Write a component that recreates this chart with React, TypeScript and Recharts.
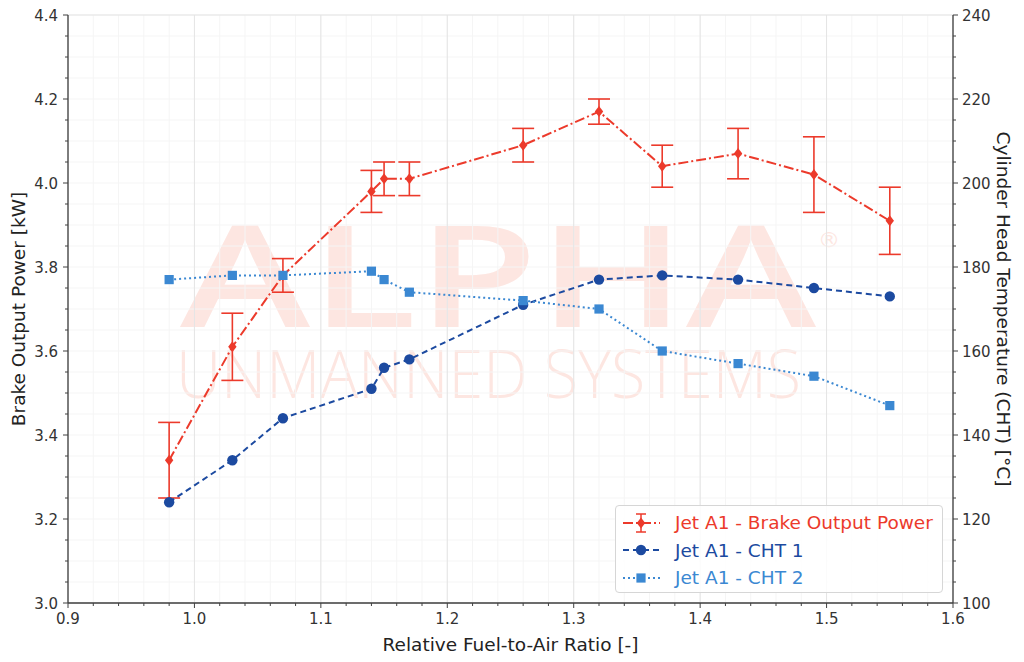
import React from 'react';
import {
  ComposedChart, Line, XAxis, YAxis, CartesianGrid, ErrorBar, Legend,
} from 'recharts';

// relative fuel-to-air ratio (x)
const RATIO = [0.98, 1.03, 1.07, 1.14, 1.15, 1.17, 1.26, 1.32, 1.37, 1.43, 1.49, 1.55];
// brake output power [kW] and its error
const POWER = [3.34, 3.61, 3.78, 3.98, 4.01, 4.01, 4.09, 4.17, 4.04, 4.07, 4.02, 3.91];
const POWER_ERR = [0.09, 0.08, 0.04, 0.05, 0.04, 0.04, 0.04, 0.03, 0.05, 0.06, 0.09, 0.08];
// cylinder head temperatures [°C]
const CHT1 = [124, 134, 144, 151, 156, 158, 171, 177, 178, 177, 175, 173];
const CHT2 = [177, 178, 178, 179, 177, 174, 172, 170, 160, 157, 154, 147];

const MAJOR_X = [0.9, 1.0, 1.1, 1.2, 1.3, 1.4, 1.5, 1.6];
const MINOR_X = [
  0.92, 0.94, 0.96, 0.98, 1.02, 1.04, 1.06, 1.08, 1.12, 1.14, 1.16, 1.18,
  1.22, 1.24, 1.26, 1.28, 1.32, 1.34, 1.36, 1.38, 1.42, 1.44, 1.46, 1.48,
  1.52, 1.54, 1.56, 1.58,
];
const MAJOR_Y = [3.0, 3.2, 3.4, 3.6, 3.8, 4.0, 4.2, 4.4];
const MINOR_Y = [
  3.05, 3.1, 3.15, 3.25, 3.3, 3.35, 3.45, 3.5, 3.55, 3.65, 3.7, 3.75,
  3.85, 3.9, 3.95, 4.05, 4.1, 4.15, 4.25, 4.3, 4.35,
];
const MAJOR_T = [100, 120, 140, 160, 180, 200, 220, 240];
const MINOR_T = [
  105, 110, 115, 125, 130, 135, 145, 150, 155, 165, 170, 175,
  185, 190, 195, 205, 210, 215, 225, 230, 235,
];

const RED = '#ec3a2b';
const NAVY = '#1c4aa0';
const SKY = '#3b88d2';
const AXIS = '#404040';
const FONT = '"DejaVu Sans", sans-serif';
const TICK_FS = 15;
const LABEL_FS = 18.5;

const data = RATIO.map((r, i) => ({
  ratio: r, power: POWER[i], err: POWER_ERR[i], cht1: CHT1[i], cht2: CHT2[i],
}));

const XTick = ({ x, y, payload }: any) => {
  const major = MAJOR_X.includes(payload.value);
  return (
    <g>
      <line x1={x} x2={x} y1={y} y2={y + (major ? 5 : 3)} stroke={AXIS} />
      {major && (
        <text x={x} y={y + 21} textAnchor="middle" fontSize={TICK_FS} fontFamily={FONT} fill="#333">
          {payload.value.toFixed(1)}
        </text>
      )}
    </g>
  );
};

const LeftTick = ({ x, y, payload }: any) => {
  const major = MAJOR_Y.includes(payload.value);
  return (
    <g>
      <line x1={x} x2={x - (major ? 5 : 3)} y1={y} y2={y} stroke={AXIS} />
      {major && (
        <text x={x - 10} y={y + 5.5} textAnchor="end" fontSize={TICK_FS} fontFamily={FONT} fill="#333">
          {payload.value.toFixed(1)}
        </text>
      )}
    </g>
  );
};

const RightTick = ({ x, y, payload }: any) => {
  const major = MAJOR_T.includes(payload.value);
  return (
    <g>
      <line x1={x} x2={x + (major ? 5 : 3)} y1={y} y2={y} stroke={AXIS} />
      {major && (
        <text x={x + 9} y={y + 5.5} textAnchor="start" fontSize={TICK_FS} fontFamily={FONT} fill="#333">
          {payload.value}
        </text>
      )}
    </g>
  );
};

const Diamond = ({ cx, cy }: any) => (
  <path d={`M${cx},${cy - 5.5}L${cx + 4.2},${cy}L${cx},${cy + 5.5}L${cx - 4.2},${cy}Z`} fill={RED} />
);
const Dot = ({ cx, cy }: any) => <circle cx={cx} cy={cy} r={5.2} fill={NAVY} />;
const Square = ({ cx, cy }: any) => <rect x={cx - 4.6} y={cy - 4.6} width={9.2} height={9.2} fill={SKY} />;

const SERIES = [
  { name: 'Jet A1 - Brake Output Power', color: RED, dash: '10 3 2 3', marker: 'diamond' },
  { name: 'Jet A1 - CHT 1', color: NAVY, dash: '6 4', marker: 'dot' },
  { name: 'Jet A1 - CHT 2', color: SKY, dash: '2 3', marker: 'square' },
];

const LegendBox = () => (
  <div
    style={{
      width: 328, height: 88, border: '1px solid #d6d6d6', borderRadius: 4,
      background: 'rgba(255,255,255,0.85)', boxSizing: 'border-box', paddingTop: 3,
    }}
  >
    {SERIES.map((s) => (
      <div key={s.name} style={{ display: 'flex', alignItems: 'center', height: 27.5 }}>
        <svg width={59} height={20} style={{ flexShrink: 0 }}>
          <line x1={7} x2={44} y1={10} y2={10} stroke={s.color} strokeWidth={2} strokeDasharray={s.dash} />
          {s.marker === 'diamond' && (
            <g>
              <line x1={25} x2={25} y1={1} y2={19} stroke={s.color} strokeWidth={1.5} />
              <line x1={20} x2={30} y1={1} y2={1} stroke={s.color} strokeWidth={1.5} />
              <line x1={20} x2={30} y1={19} y2={19} stroke={s.color} strokeWidth={1.5} />
              <Diamond cx={25} cy={10} />
            </g>
          )}
          {s.marker === 'dot' && <Dot cx={25} cy={10} />}
          {s.marker === 'square' && <Square cx={25} cy={10} />}
        </svg>
        <span style={{ fontFamily: FONT, fontSize: LABEL_FS, color: s.color, whiteSpace: 'nowrap' }}>{s.name}</span>
      </div>
    ))}
  </div>
);

export default function App() {
  return (
    <div style={{ position: 'absolute', left: 0, top: 0, width: 1024, height: 662, background: '#fff' }}>
      <svg width={1024} height={662} style={{ position: 'absolute', left: 0, top: 0 }}>
        <text x={180} y={327} fontSize={141} fontWeight={600} fontFamily='"Open Sans", sans-serif' fill="#fde6e1"
          textLength={636} lengthAdjust="spacingAndGlyphs">ALPHA</text>
        <text x={818} y={247} fontSize={22} fontFamily={FONT} fill="#fde6e1">®</text>
        <text x={176} y={398} fontSize={66} fontWeight={300} fontFamily='"Open Sans", sans-serif' fill="#fde6e1"
          textLength={625} lengthAdjust="spacingAndGlyphs">UNMANNED SYSTEMS</text>
      </svg>
      <div style={{ position: 'absolute', left: 0, top: 0 }}>
        <ComposedChart width={1024} height={662} data={data} margin={{ top: 15, right: 0, bottom: 0, left: 0 }}>
          <XAxis
            dataKey="ratio" type="number" domain={[0.9, 1.6]} ticks={[...MAJOR_X, ...MINOR_X]}
            height={59} tickSize={0} tickMargin={0} tickLine={false} tick={<XTick />}
            axisLine={{ stroke: AXIS, strokeWidth: 1.3 }} interval={0}
            label={{ value: 'Relative Fuel-to-Air Ratio [-]', position: 'insideBottom', offset: 11, fontSize: LABEL_FS, fontFamily: FONT, fill: '#222' }}
          />
          <YAxis
            yAxisId="left" type="number" domain={[3.0, 4.4]} ticks={[...MAJOR_Y, ...MINOR_Y]}
            width={68} tickSize={0} tickMargin={0} tickLine={false} tick={<LeftTick />}
            axisLine={{ stroke: AXIS, strokeWidth: 1.3 }} interval={0}
            label={{ value: 'Brake Output Power [kW]', angle: -90, position: 'insideLeft', offset: 18, style: { textAnchor: 'middle' }, fontSize: LABEL_FS, fontFamily: FONT, fill: '#222' }}
          />
          <YAxis
            yAxisId="right" orientation="right" type="number" domain={[100, 240]} ticks={[...MAJOR_T, ...MINOR_T]}
            width={71} tickSize={0} tickMargin={0} tickLine={false} tick={<RightTick />}
            axisLine={{ stroke: AXIS, strokeWidth: 1.3 }} interval={0}
            label={{ value: 'Cylinder Head Temperature (CHT) [°C]', angle: 90, position: 'insideRight', offset: 20, style: { textAnchor: 'middle' }, fontSize: LABEL_FS, fontFamily: FONT, fill: '#222' }}
          />
          <XAxis xAxisId="grid" dataKey="ratio" type="number" domain={[0.9, 1.6]} ticks={MAJOR_X} hide height={0} />
          <YAxis yAxisId="gridY" type="number" domain={[3.0, 4.4]} ticks={MAJOR_Y} hide width={0} />
          <XAxis xAxisId="top" orientation="top" type="number" domain={[0.9, 1.6]} height={0} tick={false} tickLine={false}
            axisLine={{ stroke: AXIS, strokeWidth: 1.3 }} />
          <CartesianGrid xAxisId={0} yAxisId="left" stroke="#f5f5f5" />
          <CartesianGrid xAxisId="grid" yAxisId="gridY" stroke="#e4e4e4" />
          <Line
            yAxisId="left" dataKey="power" name={SERIES[0].name} stroke={RED} strokeWidth={2}
            strokeDasharray={SERIES[0].dash} dot={<Diamond />} activeDot={false} isAnimationActive={false}
          >
            <ErrorBar dataKey="err" direction="y" width={11} stroke={RED} strokeWidth={1.6} isAnimationActive={false} />
          </Line>
          <Line
            yAxisId="right" dataKey="cht1" name={SERIES[1].name} stroke={NAVY} strokeWidth={2}
            strokeDasharray={SERIES[1].dash} dot={<Dot />} activeDot={false} isAnimationActive={false}
          />
          <Line
            yAxisId="right" dataKey="cht2" name={SERIES[2].name} stroke={SKY} strokeWidth={2}
            strokeDasharray={SERIES[2].dash} dot={<Square />} activeDot={false} isAnimationActive={false}
          />
          <Legend
            layout="vertical" align="center" verticalAlign="middle" content={<LegendBox />}
            wrapperStyle={{ left: 615, top: 505, width: 328, height: 88 }}
          />
        </ComposedChart>
      </div>
    </div>
  );
}
